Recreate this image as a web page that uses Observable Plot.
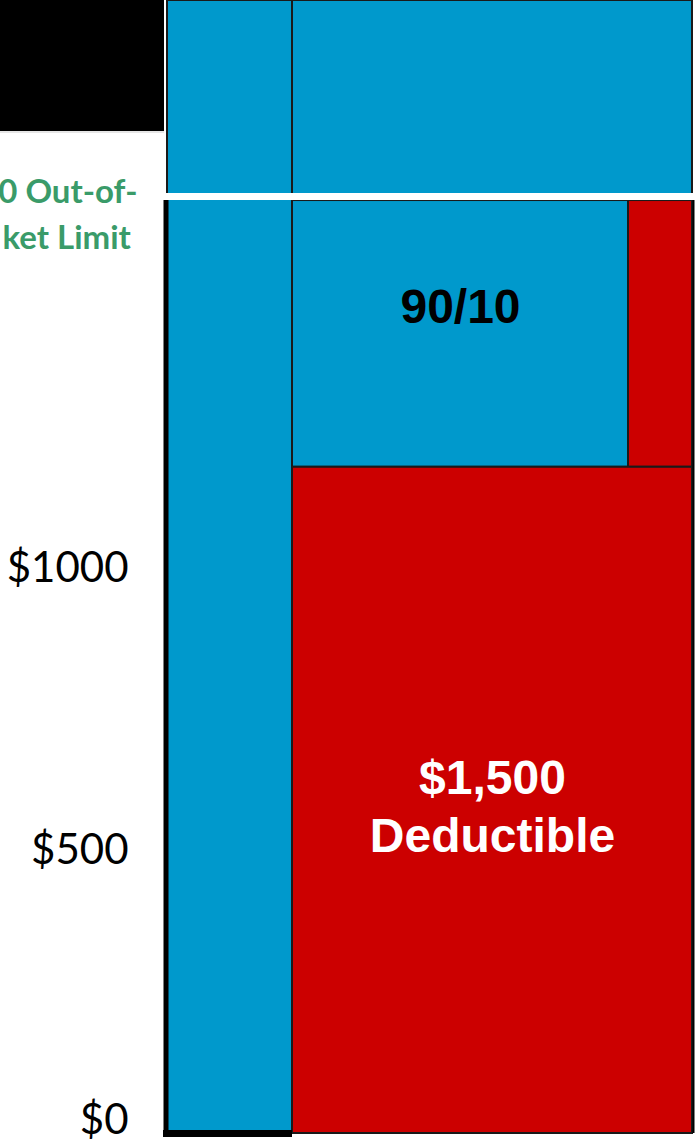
<!DOCTYPE html>
<html>
<head>
<meta charset="utf-8">
<script src="https://cdn.jsdelivr.net/npm/d3@7"></script>
<script src="https://cdn.jsdelivr.net/npm/@observablehq/plot@0.6"></script>
<style>
  html, body { margin: 0; padding: 0; background: #fff; overflow: hidden; }
  #wrap { position: relative; width: 698px; height: 1143px; }
  #band { position: absolute; left: 0; top: 0; width: 164px; height: 131px; background: #000;
          border-bottom: 2px solid #e6e6e6; }
  #chart { position: absolute; left: 0; top: 0; }
</style>
</head>
<body>
<div id="wrap"><div id="band"></div><div id="chart"></div></div>
<script>
// ---- data (x in relative width units, y in dollars) ----
const segNames = ["Column A", "Above limit", "90/10 plan share", "90/10 member share", "Deductible"];
const segX1 = [0, 125, 125, 461, 125];
const segX2 = [125, 525, 461, 525, 525];
const segY1 = [0, 1651, 1179, 1179, 0];
const segY2 = [2005, 2005, 1651, 1651, 1179];
const segFill = ["#0099CC", "#0099CC", "#0099CC", "#CC0000", "#CC0000"];

const oopLimit = 1658;          // out-of-pocket limit line
const deductible = 1179;        // top of deductible block
const yTicks = [0, 500, 1000];
const tickLabel = d => "$" + d;

const labels = [
  {text: "90/10", x: 293, y: 1467, fill: "#000"},
  {text: "$1,500\nDeductible", x: 325, y: 582, fill: "#fff"}
];
const limitLabel1 = "0 Out-of-";
const limitLabel2 = "ket Limit";

const segs = segNames.map((n, i) => ({name: n, x1: segX1[i], x2: segX2[i], y1: segY1[i], y2: segY2[i], fill: segFill[i]}));

const chart = Plot.plot({
  width: 698,
  height: 1143,
  marginLeft: 167,
  marginRight: 6,
  marginTop: 0,
  marginBottom: 10,
  style: {background: "transparent", overflow: "visible"},
  x: {domain: [0, 525], axis: null},
  y: {domain: [0, 2005]},
  marks: [
    Plot.rect(segs, {x1: "x1", x2: "x2", y1: "y1", y2: "y2", fill: "fill", stroke: "#1a1a1a", strokeWidth: 2}),
    Plot.ruleY([oopLimit], {x1: -2, x2: 526, stroke: "#fff", strokeWidth: 7}),
    Plot.ruleX([0], {y1: 0, y2: 1651, stroke: "#000", strokeWidth: 5, dx: -1.5}),
    Plot.ruleX([525], {y1: 0, y2: 1651, stroke: "#000", strokeWidth: 2, dx: 1}),
    Plot.ruleY([0], {x1: -4, x2: 125, stroke: "#000", strokeWidth: 7, dy: 0}),
    Plot.text(labels, {x: "x", y: "y", text: "text", fill: d => d.fill, fontSize: 48, fontWeight: "bold",
      fontFamily: "Liberation Sans, Arial, sans-serif", lineHeight: 1.2}),
    Plot.text([limitLabel1], {x: -30, y: oopLimit, text: d => d, textAnchor: "end", lineAnchor: "bottom",
      dy: 6, fill: "#3a9b69", fontSize: 33, fontWeight: "bold", fontFamily: "Lato, sans-serif"}),
    Plot.text([limitLabel2], {x: -165, y: oopLimit, text: d => d, textAnchor: "start", lineAnchor: "bottom",
      dy: 52, fill: "#3a9b69", fontSize: 33, fontWeight: "bold", fontFamily: "Lato, sans-serif"}),
    Plot.axisY([500, 1000], {tickSize: 0, tickPadding: 39, tickFormat: tickLabel, fontSize: 42,
      fontFamily: "Lato, sans-serif", fill: "#000", label: null}),
    Plot.axisY([0], {tickSize: 0, tickPadding: 39, tickFormat: tickLabel, fontSize: 42, dy: -13,
      fontFamily: "Lato, sans-serif", fill: "#000", label: null})
  ]
});
document.getElementById("chart").appendChild(chart);
</script>
</body>
</html>
